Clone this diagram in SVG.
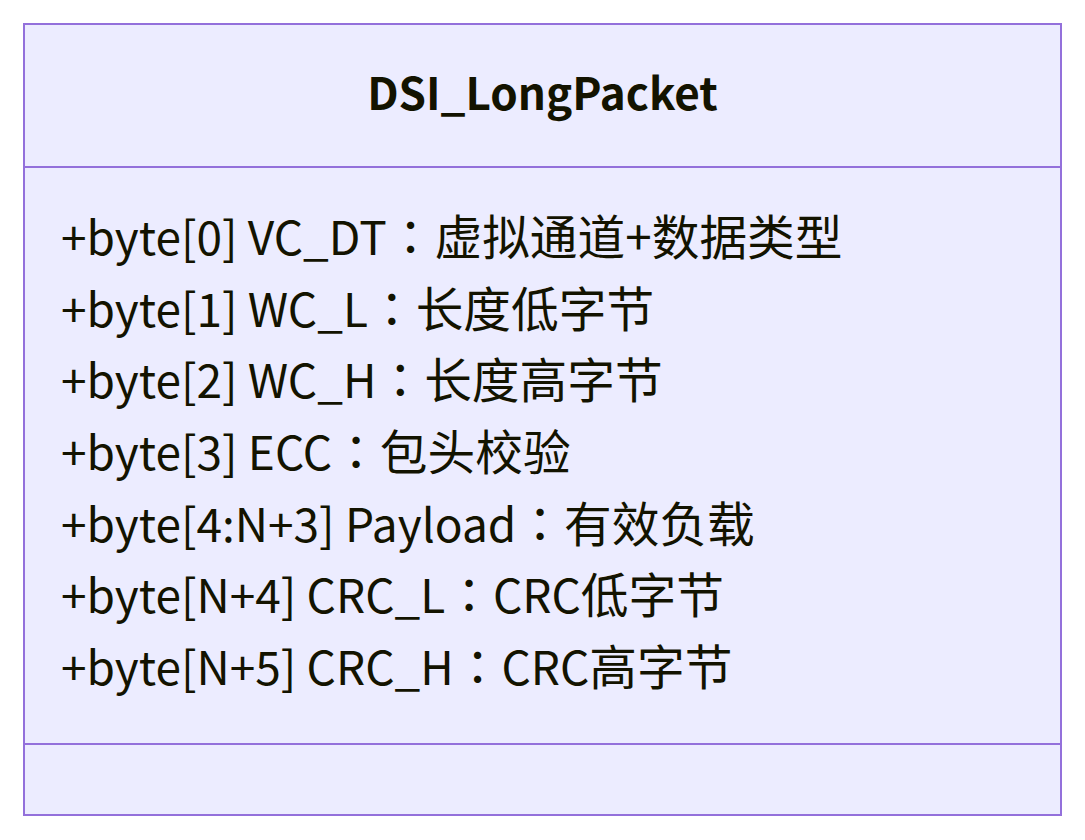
<svg xmlns="http://www.w3.org/2000/svg" width="1085" height="840" viewBox="0 0 1085 840">
<style>
.box{fill:#ECECFF;stroke:#9370DB;stroke-width:2}
.div{stroke:#9370DB;stroke-width:2;fill:none}
.t{font-family:"Noto Sans CJK SC","Noto Sans",sans-serif;font-size:46px;fill:#131300}
.title{font-weight:bold;text-anchor:middle;font-size:44px}
.k{font-size:47.7px}
.c{font-family:"Noto Sans CJK TC","Noto Sans CJK SC",sans-serif;font-size:47.7px}
</style>
<rect width="1085" height="840" fill="#ffffff"/>
<g id="DSI_LongPacket">
<rect class="box" x="24" y="24" width="1037" height="791"/>
<line class="div" x1="24" y1="167" x2="1061" y2="167"/>
<line class="div" x1="24" y1="744" x2="1061" y2="744"/>
<text class="t title" x="542.5" y="110">DSI_LongPacket</text>
<text class="t" x="61" y="255">+byte[0] VC_DT<tspan class="c">：</tspan><tspan class="k">虚拟通道+数据类型</tspan></text>
<text class="t" x="61" y="326.7">+byte[1] WC_L<tspan class="c">：</tspan><tspan class="k">长度低字节</tspan></text>
<text class="t" x="61" y="398.3">+byte[2] WC_H<tspan class="c">：</tspan><tspan class="k">长度高字节</tspan></text>
<text class="t" x="61" y="470">+byte[3] ECC<tspan class="c">：</tspan><tspan class="k">包头校验</tspan></text>
<text class="t" x="61" y="541.7">+byte[4:N+3] Payload<tspan class="c">：</tspan><tspan class="k">有效负载</tspan></text>
<text class="t" x="61" y="613.3">+byte[N+4] CRC_L<tspan class="c">：</tspan>CRC<tspan class="k">低字节</tspan></text>
<text class="t" x="61" y="685">+byte[N+5] CRC_H<tspan class="c">：</tspan>CRC<tspan class="k">高字节</tspan></text>
</g>
<g id="connectors"/>
</svg>
